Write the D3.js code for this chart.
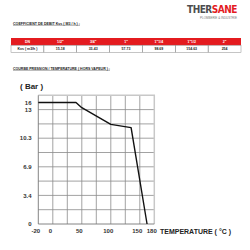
<!DOCTYPE html>
<html>
<head>
<meta charset="utf-8">
<script src="https://cdn.jsdelivr.net/npm/d3@7"></script>
<style>
    body { margin: 0; background: #fff; }
    svg { display: block; }
</style>
</head>
<body>
<div id="chart"></div>
<script>
// Kvs table
const tableHeaders = ["DN", "1/2\"", "3/4\"", "1\"", "1\"1/4", "1\"1/2", "2\""];
const tableValues = ["Kvs ( m3/h )", "15-18", "33-43", "57.73", "98.69", "154.63", "254"];
// pressure / temperature curve
const temperatures = [-20, 40, 50, 100, 135, 165];
const pressures = [16, 16, 13.8, 11.6, 11.3, 0];
// axis labels
const xTickLabels = [-20, 0, 50, 100, 150, 180];
const yTickLabels = [0, 3.4, 6.9, 10.3, 13, 16];

//Setup Dimensions
const width = 250;
const height = 250;
const plot = { left: 38.3, right: 154.3, top: 95.3, bottom: 224 };
const red = "#e41b1f";

const svg = d3.select("#chart")
    .append("svg")
    .attr("width", width)
    .attr("height", height)
    .style("font-family", "'Liberation Sans', Arial, sans-serif");

//Logo
const logo = svg.append("text")
    .attr("x", 187)
    .attr("y", 13)
    .attr("textLength", 50)
    .attr("lengthAdjust", "spacingAndGlyphs")
    .style("font-family", "'DejaVu Sans Condensed', 'DejaVu Sans', sans-serif")
    .style("font-weight", "bold")
    .style("font-size", "10px")
    .style("letter-spacing", "-0.5px");
logo.append("tspan").attr("fill", "#4d4d4f").text("THER");
logo.append("tspan").attr("fill", red).text("SANE");
svg.append("text")
    .attr("x", 200)
    .attr("y", 18.6)
    .attr("textLength", 37)
    .attr("lengthAdjust", "spacingAndGlyphs")
    .attr("fill", "#777")
    .style("font-size", "2.8px")
    .text("PLOMBERIE & INDUSTRIE");

//Section titles (underlined)
function sectionTitle(text, x, y, len) {
    svg.append("text")
        .attr("x", x)
        .attr("y", y)
        .attr("textLength", len)
        .attr("lengthAdjust", "spacingAndGlyphs")
        .attr("fill", "#222")
        .style("font-size", "4px")
        .style("font-weight", "bold")
        .text(text);
    svg.append("line")
        .attr("x1", x).attr("x2", x + len)
        .attr("y1", y + 0.9).attr("y2", y + 0.9)
        .attr("stroke", "#444")
        .attr("stroke-width", 0.4);
}
sectionTitle("COEFFICIENT DE DEBIT Kvs ( M3 / h ) :", 13, 24.5, 67);
sectionTitle("COURBE PRESSION / TEMPERATURE ( HORS VAPEUR ) :", 13, 69.5, 97);

//Table
const col = d3.scaleBand()
    .domain(d3.range(tableHeaders.length))
    .range([11, 241]);
const rowTop = 38, rowH = 7.2;
const table = svg.append("g");
table.append("rect")
    .attr("x", col.range()[0]).attr("y", rowTop)
    .attr("width", col.range()[1] - col.range()[0]).attr("height", rowH)
    .attr("fill", red);
table.selectAll(".head")
    .data(tableHeaders)
    .enter().append("text")
    .attr("x", (d, i) => col(i) + col.bandwidth() / 2)
    .attr("y", rowTop + rowH / 2 + 1.2)
    .attr("text-anchor", "middle")
    .attr("fill", "#fff")
    .style("font-size", "3.5px")
    .style("font-weight", "bold")
    .text(d => d);
table.selectAll(".cell")
    .data(tableValues)
    .enter().append("rect")
    .attr("x", (d, i) => col(i))
    .attr("y", rowTop + rowH)
    .attr("width", col.bandwidth())
    .attr("height", rowH)
    .attr("fill", "none")
    .attr("stroke", "#8c8c8c")
    .attr("stroke-width", 0.5);
table.selectAll(".val")
    .data(tableValues)
    .enter().append("text")
    .attr("x", (d, i) => col(i) + col.bandwidth() / 2)
    .attr("y", rowTop + rowH * 1.5 + 1.2)
    .attr("text-anchor", "middle")
    .attr("fill", "#222")
    .style("font-size", "3.5px")
    .style("font-weight", "bold")
    .text(d => d);

//Grid scales (8 columns, 9 rows)
const gx = d3.scaleLinear().domain([0, 8]).range([plot.left, plot.right]);
const gy = d3.scaleLinear().domain([0, 9]).range([plot.bottom, plot.top]);

//Data scales (the original axes are not uniform at their ends)
const x = d3.scaleLinear()
    .domain([-20, 0, 150, 180])
    .range([gx(0), gx(1), gx(7), gx(8)]);
const y = d3.scaleLinear()
    .domain([0, 10.3, 13, 16])
    .range([gy(0), gy(6), gy(8), gy(8.5)]);

const grid = svg.append("g");
grid.selectAll(".vgrid")
    .data(d3.range(1, 8))
    .enter().append("line")
    .attr("x1", d => gx(d)).attr("x2", d => gx(d))
    .attr("y1", plot.top).attr("y2", plot.bottom)
    .attr("stroke", "#8a8a8a")
    .attr("stroke-width", 0.8);
grid.selectAll(".hgrid")
    .data(d3.range(1, 9))
    .enter().append("line")
    .attr("x1", plot.left).attr("x2", plot.right)
    .attr("y1", d => gy(d)).attr("y2", d => gy(d))
    .attr("stroke", "#8a8a8a")
    .attr("stroke-width", 0.8);
//top and right border (light)
grid.append("polyline")
    .attr("points", `${plot.left},${plot.top} ${plot.right},${plot.top} ${plot.right},${plot.bottom}`)
    .attr("fill", "none")
    .attr("stroke", "#c8c8c8")
    .attr("stroke-width", 1.5);
//left and bottom axis
grid.append("polyline")
    .attr("points", `${plot.left},${plot.top} ${plot.left},${plot.bottom} ${plot.right},${plot.bottom}`)
    .attr("fill", "none")
    .attr("stroke", "#777")
    .attr("stroke-width", 0.9);

//Tick labels
svg.selectAll(".ylab")
    .data(yTickLabels)
    .enter().append("text")
    .attr("x", 31.5)
    .attr("y", d => y(d) + 2.1)
    .attr("text-anchor", "end")
    .attr("fill", "#333")
    .style("font-size", "6px")
    .style("font-weight", "bold")
    .text(d => d);
svg.selectAll(".xlab")
    .data(xTickLabels)
    .enter().append("text")
    .attr("x", d => x(d) - 2.5)
    .attr("y", 232.8)
    .attr("text-anchor", "middle")
    .attr("fill", "#333")
    .style("font-size", "6px")
    .style("font-weight", "bold")
    .text(d => d);

//Axis titles
svg.append("text")
    .attr("x", 20)
    .attr("y", 89)
    .attr("fill", "#222")
    .style("font-size", "8px")
    .style("font-weight", "bold")
    .text("( Bar )");
svg.append("text")
    .attr("x", 160)
    .attr("y", 233.8)
    .attr("textLength", 71)
    .attr("lengthAdjust", "spacingAndGlyphs")
    .attr("fill", "#222")
    .style("font-size", "7.5px")
    .style("font-weight", "bold")
    .text("TEMPERATURE ( °C )");

//Curve
const line = d3.line()
    .x(i => x(temperatures[i]))
    .y(i => y(pressures[i]));
svg.append("path")
    .attr("d", line(d3.range(temperatures.length)))
    .attr("fill", "none")
    .attr("stroke", "#111")
    .attr("stroke-width", 1.4)
    .attr("stroke-linejoin", "round");
</script>
</body>
</html>
